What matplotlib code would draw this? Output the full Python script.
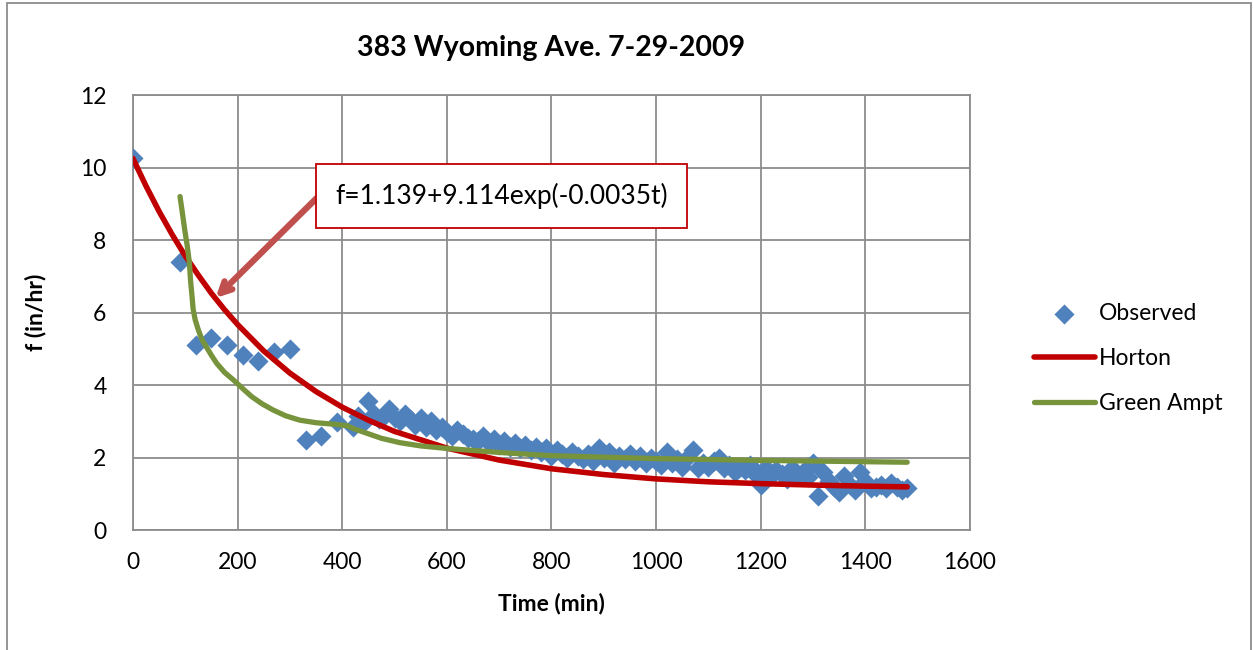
import numpy as np
import matplotlib.pyplot as plt
from matplotlib.patches import Rectangle

# observed infiltration rate
t_obs = [0, 90, 120, 150, 180, 210, 240, 270, 300, 330, 360, 390, 420,
         430, 440, 450, 460, 470, 480, 490, 500, 510, 520, 530, 540, 550,
         560, 570, 580, 590, 600, 610, 620, 630, 640, 650, 660, 670, 680,
         690, 700, 710, 720, 730, 740, 750, 760, 770, 780, 790, 800, 810,
         820, 830, 840, 850, 860, 870, 880, 890, 900, 910, 920, 930, 940,
         950, 960, 970, 980, 990, 1000, 1010, 1020, 1030, 1040, 1050, 1060,
         1070, 1080, 1090, 1100, 1110, 1120, 1130, 1140, 1150, 1160, 1170,
         1180, 1190, 1200, 1210, 1220, 1230, 1240, 1250, 1260, 1270, 1280,
         1290, 1300, 1310, 1320, 1330, 1340, 1350, 1360, 1370, 1380, 1390,
         1400, 1410, 1420, 1430, 1440, 1450, 1460, 1470, 1480]
f_obs = [10.26, 7.40, 5.10, 5.30, 5.10, 4.82, 4.66, 4.92, 5.00, 2.48, 2.58, 2.98, 2.85,
         3.15, 2.95, 3.55, 3.20, 3.05, 3.15, 3.35, 3.10, 3.00, 3.20, 3.05, 2.90, 3.10,
         2.85, 3.00, 2.75, 2.85, 2.70, 2.60, 2.75, 2.65, 2.55, 2.50, 2.45, 2.60, 2.40,
         2.50, 2.35, 2.45, 2.30, 2.40, 2.25, 2.35, 2.20, 2.30, 2.15, 2.25, 2.05, 2.20,
         2.10, 2.00, 2.15, 2.05, 1.95, 2.10, 1.90, 2.25, 2.00, 2.15, 1.85, 2.05, 1.95,
         2.10, 1.90, 2.05, 1.85, 2.00, 1.90, 1.80, 2.15, 1.85, 1.95, 1.75, 2.00,
         2.20, 1.70, 1.85, 1.75, 1.90, 2.00, 1.70, 1.80, 1.60, 1.75, 1.65,
         1.80, 1.55, 1.25, 1.70, 1.50, 1.65, 1.55, 1.40, 1.70, 1.50, 1.60,
         1.45, 1.85, 0.95, 1.60, 1.35, 1.20, 1.05, 1.50, 1.25, 1.10, 1.60,
         1.35, 1.15, 1.20, 1.25, 1.15, 1.30, 1.20, 1.10, 1.15]

# Horton curve
t_hor = [0, 25, 50, 75, 100, 125, 150, 175, 200, 250, 300, 350, 400, 450, 500,
         600, 700, 800, 900, 1000, 1100, 1200, 1300, 1400, 1480]
f_hor = [10.25, 9.49, 8.79, 8.15, 7.56, 7.03, 6.53, 6.08, 5.67, 4.94, 4.33,
         3.82, 3.39, 3.03, 2.72, 2.26, 1.93, 1.69, 1.53, 1.41, 1.33, 1.28,
         1.24, 1.21, 1.19]

# Green Ampt curve
t_ga = [90, 94, 99, 104, 108, 110, 113, 115, 119, 125, 132, 140, 150, 160,
        175, 192, 210, 227, 247, 268, 292, 319, 350, 383, 408, 425, 447,
        475, 510, 550, 600, 700, 800, 1000, 1200, 1480]
f_ga = [9.20, 8.80, 8.28, 7.82, 7.36, 6.90, 6.44, 6.10, 5.80, 5.52, 5.25,
        5.06, 4.82, 4.60, 4.35, 4.14, 3.90, 3.68, 3.48, 3.31, 3.15, 3.03,
        2.96, 2.92, 2.88, 2.78, 2.67, 2.53, 2.41, 2.32, 2.25, 2.14, 2.05,
        1.97, 1.92, 1.87]

plt.rcParams['font.family'] = ['Lato', 'DejaVu Sans']

fig = plt.figure(figsize=(12.53, 6.5), dpi=100)
ax = fig.add_axes([0.1061, 0.1846, 0.668, 0.6692])

ax.scatter(t_obs, f_obs, marker='D', s=105, color='#4f81bd', zorder=3,
           label='Observed', linewidths=0)
ax.plot(t_hor, f_hor, color='#c00000', lw=4.0, solid_capstyle='round',
        zorder=4, label='Horton')
ax.plot(t_ga, f_ga, color='#77933c', lw=3.8, solid_capstyle='round',
        zorder=4, label='Green Ampt')

ax.set_xlim(0, 1600)
ax.set_ylim(0, 12)
ax.set_xticks(range(0, 1601, 200))
ax.set_yticks(range(0, 13, 2))
ax.grid(True, color='#8c8c8c', lw=1.3)
ax.set_axisbelow(True)
for s in ax.spines.values():
    s.set_color('#8c8c8c')
    s.set_linewidth(1.3)
ax.tick_params(length=0, labelsize=16.5)
ax.tick_params(axis='y', pad=19)
ax.tick_params(axis='x', pad=16)

ax.set_title('383 Wyoming Ave. 7-29-2009', fontsize=20.5, fontweight='bold', pad=28)
ax.set_xlabel('Time (min)', fontsize=16.5, fontweight='bold', labelpad=14)
ax.set_ylabel('f (in/hr)', fontsize=16.5, fontweight='bold', labelpad=24)

# equation box with arrow
ax.text(704, 9.21, 'f=1.139+9.114exp(-0.0035t)', fontsize=19, ha='center',
        va='center', zorder=6,
        bbox=dict(boxstyle='square,pad=0.72', fc='white', ec='#c00000', lw=1.3))
ax.annotate('', xy=(158, 6.4), xytext=(357, 9.24), zorder=5,
            arrowprops=dict(arrowstyle='->,head_length=0.8,head_width=0.4',
                            color='#c0504d', lw=4.5, shrinkA=0, shrinkB=0))

ax.legend(loc='center left', bbox_to_anchor=(1.065, 0.395), frameon=False,
          fontsize=16.5, handlelength=2.7, labelspacing=1.05, handletextpad=0.15,
          borderaxespad=0)

# outer chart border
fig.patches.append(Rectangle((7 / 1253, -0.1), 1244 / 1253, 1.1 - 3 / 650,
                             transform=fig.transFigure, fill=False,
                             ec='#8c8c8c', lw=1.3))

plt.savefig('out.png', dpi=100)
